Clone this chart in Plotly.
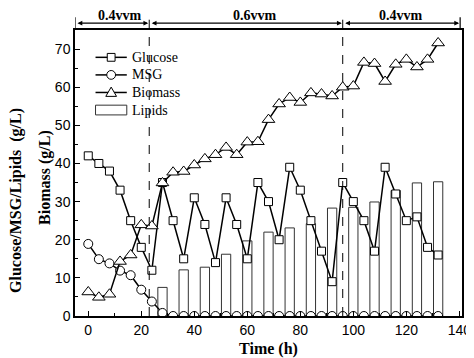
import plotly.graph_objects as go

time_h = [0, 4, 8, 12, 16, 20, 24, 28, 32, 36, 40, 44, 48, 52, 56, 60, 64, 68,
          72, 76, 80, 84, 88, 92, 96, 100, 104, 108, 112, 116, 120, 124, 128, 132]
glucose = [42, 40, 38, 33, 25, 18, 12, 35, 25, 15, 31, 24, 14, 31, 24, 15, 35, 30,
           20, 39, 33, 25, 17, 9, 35, 30, 25, 17, 39, 32, 25, 26, 18, 16]
msg = [18.9, 14.9, 13.8, 11.9, 10.7, 6.9, 3.8, 0.8, 0, 0, 0, 0, 0, 0, 0, 0, 0, 0,
       0, 0, 0, 0, 0, 0, 0, 0, 0, 0, 0, 0, 0, 0, 0, 0]
biomass = [6.3, 4.9, 5.7, 14.3, 16.0, 23.9, 23.6, 34.9, 37.7, 37.9, 39.6, 41.2, 42.3,
           44.2, 42.3, 45.6, 45.7, 51.5, 55.6, 57.3, 56.0, 58.5, 58.2, 57.7, 60.0,
           60.3, 66.5, 66.2, 61.5, 66.0, 67.3, 65.3, 67.3, 71.6]
lipid_time = [28, 36, 44, 52, 60, 68, 76, 84, 92, 100, 108, 116, 124, 132]
lipids = [7.5, 12.1, 12.8, 16.2, 19.7, 22.0, 23.1, 24.2, 28.3, 28.5, 29.9, 32.9, 34.9, 35.2]

# aeration phases
phase_bounds = [-5, 23, 96, 140.3]
phase_labels = ["0.4vvm", "0.6vvm", "0.4vvm"]
phase_label_x = [12, 63, 118]

legend_names = ["Glucose", "MSG", "Biomass", "Lipids"]

serif = "Liberation Serif, Times New Roman, serif"
sans = "Liberation Sans, Arial, sans-serif"

W, H = 474, 358
ML, MR, MT, MB = 67, 11, 22, 43
PW, PH = W - ML - MR, H - MT - MB


def px(xp):
    return (xp - ML) / PW


def py(yp):
    return (H - MB - yp) / PH


fig = go.Figure()
fig.add_trace(go.Scatter(x=time_h, y=glucose, name="Glucose", mode="lines+markers",
                         line=dict(color="black", width=1.5),
                         marker=dict(symbol="square", size=8, color="white",
                                     line=dict(color="black", width=1))))
fig.add_trace(go.Scatter(x=time_h, y=msg, name="MSG", mode="lines+markers",
                         line=dict(color="black", width=1.5),
                         marker=dict(symbol="circle", size=9, color="white",
                                     line=dict(color="black", width=1))))
fig.add_trace(go.Scatter(x=time_h, y=biomass, name="Biomass", mode="lines+markers",
                         line=dict(color="black", width=1.5),
                         marker=dict(symbol="triangle-up", size=11, color="white",
                                     line=dict(color="black", width=1))))
fig.add_trace(go.Bar(x=lipid_time, y=lipids, name="Lipids", width=3.5,
                     marker=dict(color="white", line=dict(color="#333333", width=1))))

shapes = []
for xb in phase_bounds[1:-1]:
    shapes.append(dict(type="line", xref="x", yref="paper", x0=xb, x1=xb, y0=0, y1=1.036,
                       line=dict(color="black", width=1, dash="dash")))
for xb in [phase_bounds[0], phase_bounds[-1]]:
    shapes.append(dict(type="line", xref="x", yref="paper", x0=xb, x1=xb, y0=1.0, y1=1.045,
                       line=dict(color="black", width=1.2)))

annotations = []
for i in range(3):
    a, b = phase_bounds[i], phase_bounds[i + 1]
    annotations.append(dict(x=b, y=1.024, xref="x", yref="paper", ax=a, ay=0,
                            axref="x", ayref="pixel", text="", showarrow=True,
                            arrowhead=2, startarrowhead=2, arrowside="end+start",
                            arrowsize=0.8, arrowwidth=1.2, arrowcolor="black",
                            standoff=1, startstandoff=1))
    annotations.append(dict(x=phase_label_x[i], y=1.051, xref="x", yref="paper",
                            text="<b>%s</b>" % phase_labels[i], showarrow=False,
                            font=dict(family=serif, size=14, color="black"),
                            yanchor="middle", xanchor="center"))
annotations.append(dict(x=-0.152, y=0.403, xref="paper", yref="paper", textangle=-90,
                        text="<b>Glucose/MSG/Lipids  (g/L)</b>", showarrow=False,
                        xanchor="center", yanchor="middle",
                        font=dict(family=serif, size=16, color="black")))
annotations.append(dict(x=-0.076, y=0.485, xref="paper", yref="paper", textangle=-90,
                        text="<b>Biomass (g/L)</b>", showarrow=False,
                        xanchor="center", yanchor="middle",
                        font=dict(family=serif, size=16, color="black")))

# legend (drawn as layout shapes)
leg_x0, leg_x1, leg_xc, leg_tx = 88, 120, 104, 123
leg_rows = [50, 68, 86, 104]
for name, yr in zip(legend_names, leg_rows):
    annotations.append(dict(x=px(leg_tx), y=py(yr), xref="paper", yref="paper",
                            text=name, showarrow=False, xanchor="left", yanchor="middle",
                            font=dict(family=serif, size=14, color="black")))
for yr in leg_rows[:3]:
    shapes.append(dict(type="line", xref="paper", yref="paper", x0=px(leg_x0), x1=px(leg_x1),
                       y0=py(yr), y1=py(yr), line=dict(color="black", width=1.5)))
mk = dict(color="black", width=1)
shapes.append(dict(type="rect", xref="paper", yref="paper", x0=px(leg_xc - 4), x1=px(leg_xc + 4),
                   y0=py(leg_rows[0] + 4), y1=py(leg_rows[0] - 4), line=mk, fillcolor="white"))
shapes.append(dict(type="circle", xref="paper", yref="paper", x0=px(leg_xc - 4.5), x1=px(leg_xc + 4.5),
                   y0=py(leg_rows[1] + 4.5), y1=py(leg_rows[1] - 4.5), line=mk, fillcolor="white"))
tri = "M %f,%f L %f,%f L %f,%f Z" % (px(leg_xc - 5.5), py(leg_rows[2] + 4),
                                     px(leg_xc + 5.5), py(leg_rows[2] + 4),
                                     px(leg_xc), py(leg_rows[2] - 5.5))
shapes.append(dict(type="path", xref="paper", yref="paper", path=tri, line=mk, fillcolor="white"))
shapes.append(dict(type="rect", xref="paper", yref="paper", x0=px(leg_x0), x1=px(leg_x1),
                   y0=py(leg_rows[3] + 5), y1=py(leg_rows[3] - 5),
                   line=dict(color="#333333", width=1), fillcolor="white"))

fig.update_layout(
    width=W, height=H,
    margin=dict(l=ML, r=MR, t=MT, b=MB),
    paper_bgcolor="white", plot_bgcolor="white",
    showlegend=False,
    shapes=shapes, annotations=annotations,
)
fig.update_xaxes(range=[-5, 141], tickvals=[0, 20, 40, 60, 80, 100, 120, 140],
                 ticks="inside", ticklen=5, tickwidth=1.2, tickcolor="black",
                 minor=dict(tickvals=[10, 30, 50, 70, 90, 110, 130], ticks="inside",
                            ticklen=3, tickcolor="black"),
                 showline=True, linecolor="black", linewidth=1.5, mirror=True,
                 showgrid=False, zeroline=False,
                 tickfont=dict(family=sans, size=14, color="black"),
                 title=dict(text="<b>Time (h)</b>", font=dict(family=serif, size=16, color="black"),
                            standoff=6))
fig.update_yaxes(range=[0, 75], tickvals=[0, 10, 20, 30, 40, 50, 60, 70],
                 ticks="inside", ticklen=5, tickwidth=1.2, tickcolor="black",
                 minor=dict(tickvals=[5, 15, 25, 35, 45, 55, 65], ticks="inside",
                            ticklen=3, tickcolor="black"),
                 showline=True, linecolor="black", linewidth=1.5, mirror=True,
                 showgrid=False, zeroline=False,
                 tickfont=dict(family=sans, size=14, color="black"))

fig.write_html("out.html")
